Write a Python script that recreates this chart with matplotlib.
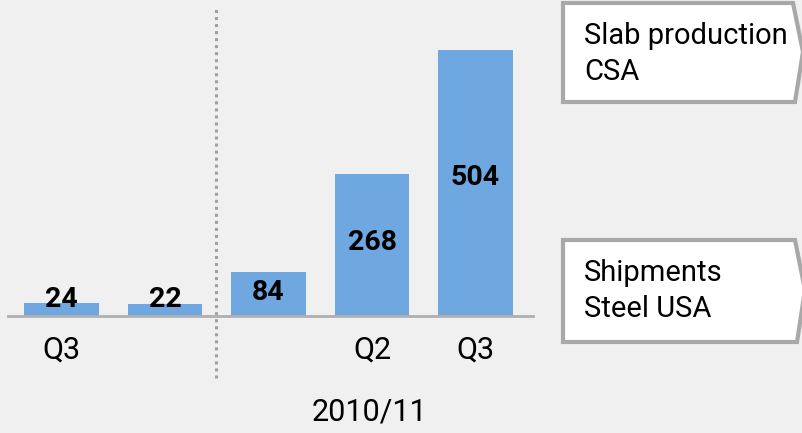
import numpy as np
import matplotlib
matplotlib.use("Agg")
import matplotlib.pyplot as plt
from matplotlib.patches import Polygon

plt.rcParams['font.family'] = ['Roboto', 'DejaVu Sans']

# data
values = np.array([24, 22, 84, 268, 504])
tick_labels = ["Q3", "", "", "Q2", "Q3"]
year_label = "2010/11"
box_texts = ["Slab production\nCSA", "Shipments\nSteel USA"]

bg = "#f0f0f0"
bar_col = "#6fa8e0"

fig = plt.figure(figsize=(8.02, 4.33), dpi=100, facecolor=bg)
ax = fig.add_axes([0, 0, 1, 1])
ax.set_facecolor(bg)
# 103.5 px per category, 0.528 px per unit, baseline at y=316 px
ax.set_xlim(-61.5 / 103.5, (802 - 61.5) / 103.5)
ax.set_ylim(-(433 - 316) / 0.528, 316 / 0.528)
ax.axis("off")

x = np.arange(len(values))
ax.bar(x, values, width=0.715, color=bar_col, zorder=2)
ax.plot([-0.52, 4.56], [0, 0], color="#b0b0b0", lw=2, zorder=3)
ax.plot([1.49, 1.49], [-117, 585], color="#a0a0a0", lw=2.2,
        linestyle=(0, (1, 1.3)), zorder=1)

label_y = np.maximum(values * 0.52, 32)
for xi, v, ly in zip(x, values, label_y):
    ax.text(xi, ly, str(v), ha="center", va="center", fontsize=20.5,
            fontweight="bold", color="black", zorder=4)

for xi, t in zip(x, tick_labels):
    ax.text(xi, -64, t, ha="center", va="center", fontsize=22)
ax.text(2.98, -182, year_label, ha="center", va="center", fontsize=22)

# overlay in pixel coordinates for the side boxes
ax2 = fig.add_axes([0, 0, 1, 1])
ax2.set_xlim(0, 802)
ax2.set_ylim(433, 0)
ax2.axis("off")
ax2.patch.set_alpha(0)

boxes = [
    [(563, 3), (793, 3), (803, 52), (795, 102), (563, 102)],
    [(563, 240), (795, 240), (805, 290), (797, 342), (563, 342)],
]
text_pos = [(584, 54), (584, 291)]
for pts, (tx, ty), t in zip(boxes, text_pos, box_texts):
    ax2.add_patch(Polygon(pts, closed=True, facecolor="white",
                          edgecolor="#a8a8a8", lw=3, clip_on=False))
    ax2.text(tx, ty, t, ha="left", va="center", fontsize=21,
             linespacing=1.33)

fig.savefig("out.png", dpi=100, facecolor=bg)
